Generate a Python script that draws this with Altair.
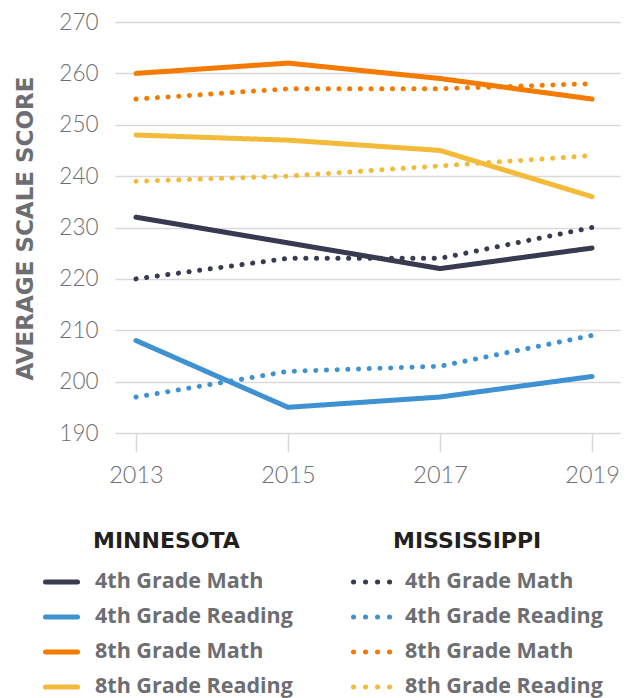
import altair as alt
import pandas as pd

years = [2013, 2015, 2017, 2019]
states = ["Minnesota", "Mississippi"]
state_titles = ["MINNESOTA", "MISSISSIPPI"]
subjects = ["4th Grade Math", "4th Grade Reading", "8th Grade Math", "8th Grade Reading"]
colors = ["#383a50", "#3f92d2", "#f47a00", "#f4ba3a"]

# Minnesota
mn_4th_math = [232, 227, 222, 226]
mn_4th_reading = [208, 195, 197, 201]
mn_8th_math = [260, 262, 259, 255]
mn_8th_reading = [248, 247, 245, 236]
# Mississippi
ms_4th_math = [220, 224, 224, 230]
ms_4th_reading = [197, 202, 203, 209]
ms_8th_math = [255, 257, 257, 258]
ms_8th_reading = [239, 240, 242, 244]

y_ticks = [190, 200, 210, 220, 230, 240, 250, 260, 270]

series = {
    ("Minnesota", "4th Grade Math"): mn_4th_math,
    ("Minnesota", "4th Grade Reading"): mn_4th_reading,
    ("Minnesota", "8th Grade Math"): mn_8th_math,
    ("Minnesota", "8th Grade Reading"): mn_8th_reading,
    ("Mississippi", "4th Grade Math"): ms_4th_math,
    ("Mississippi", "4th Grade Reading"): ms_4th_reading,
    ("Mississippi", "8th Grade Math"): ms_8th_math,
    ("Mississippi", "8th Grade Reading"): ms_8th_reading,
}
rows = []
for (st, sub), vals in series.items():
    for yr, v in zip(years, vals):
        rows.append({"state": st, "subject": sub, "year": yr, "score": v})
df = pd.DataFrame(rows)

leg = pd.DataFrame([{"state": s, "subject": sub} for s in states for sub in subjects])
heads = pd.DataFrame({"state": states, "title": state_titles})

color = alt.Color("subject:N", scale=alt.Scale(domain=subjects, range=colors), legend=None)

lines = alt.Chart(df).mark_line(strokeWidth=5, strokeCap="round", strokeJoin="round").encode(
    x=alt.X("year:Q",
            scale=alt.Scale(domain=[2012.724, 2019.368], nice=False, zero=False),
            axis=alt.Axis(values=years, format="d", title=None, grid=False, domain=False,
                          ticks=True, tickSize=19, tickColor="#d9d9d9", tickWidth=1.5,
                          labelFont="Lato", labelFontSize=23.5, labelFontWeight=300,
                          labelColor="#6d6e71", labelPadding=11)),
    y=alt.Y("score:Q",
            scale=alt.Scale(domain=[190, 270], nice=False, zero=False),
            axis=alt.Axis(values=y_ticks, title="AVERAGE SCALE SCORE", grid=True,
                          gridColor="#d9d9d9", gridWidth=1.5, domain=False, ticks=False,
                          labelFont="Lato", labelFontSize=22.5, labelFontWeight=300,
                          labelColor="#6d6e71", labelPadding=17,
                          titleX=-90, titleY=206, titleAngle=270, titleAlign="center",
                          titleBaseline="middle", titleFont="DejaVu Sans", titleFontSize=23,
                          titleFontWeight="bold", titleColor="#6d6e71")),
    color=color,
    strokeDash=alt.StrokeDash("state:N",
                              scale=alt.Scale(domain=states, range=[[1, 0], [0.1, 10.6]]),
                              legend=None),
)

leg_y = alt.Y("subject:N", scale=alt.Scale(type="point", domain=subjects, range=[560, 665], padding=0), axis=None)

solid = alt.Chart(leg).transform_filter(alt.datum.state == "Minnesota").mark_rule(
    strokeWidth=5, strokeCap="round", x2Offset=32).encode(
    x=alt.X("state:N", scale=alt.Scale(type="point", domain=states, range=[-69.5, 240.5], padding=0), axis=None),
    x2="state",
    y=leg_y,
    color=color,
)

dotted = alt.Chart(leg).transform_filter(alt.datum.state == "Mississippi").mark_rule(
    strokeWidth=5, strokeCap="round", strokeDash=[0.1, 11.9], x2Offset=36.2).encode(
    x=alt.X("state:N", scale=alt.Scale(type="point", domain=states, range=[-381.5, 238.5], padding=0), axis=None),
    x2="state",
    y=leg_y,
    color=color,
)

labels = alt.Chart(leg).mark_text(
    align="left", baseline="middle", font="Open Sans", fontSize=21.5, fontWeight="bold",
    color="#6d6e71").encode(
    x=alt.X("state:N", scale=alt.Scale(type="point", domain=states, range=[-20, 290], padding=0), axis=None),
    y=leg_y,
    text="subject:N",
)

titles = alt.Chart(heads).mark_text(
    align="left", baseline="middle", font="DejaVu Sans", fontSize=22, fontWeight="bold",
    color="#231f20").encode(
    x=alt.X("state:N", scale=alt.Scale(type="point", domain=states, range=[-22, 278], padding=0), axis=None),
    y=alt.Y("state:N", scale=alt.Scale(type="point", domain=states, range=[519, 519], padding=0), axis=None),
    text="title:N",
)

chart = alt.layer(lines, solid, dotted, labels, titles).resolve_scale(
    x="independent", y="independent"
).properties(
    width=505, height=411,
    padding={"left": 107, "top": 14, "right": 6, "bottom": 280},
    autosize=alt.AutoSizeParams(type="none"),
).configure_view(stroke=None)

chart.save("out.html", embed_options={"renderer": "svg", "actions": False})
